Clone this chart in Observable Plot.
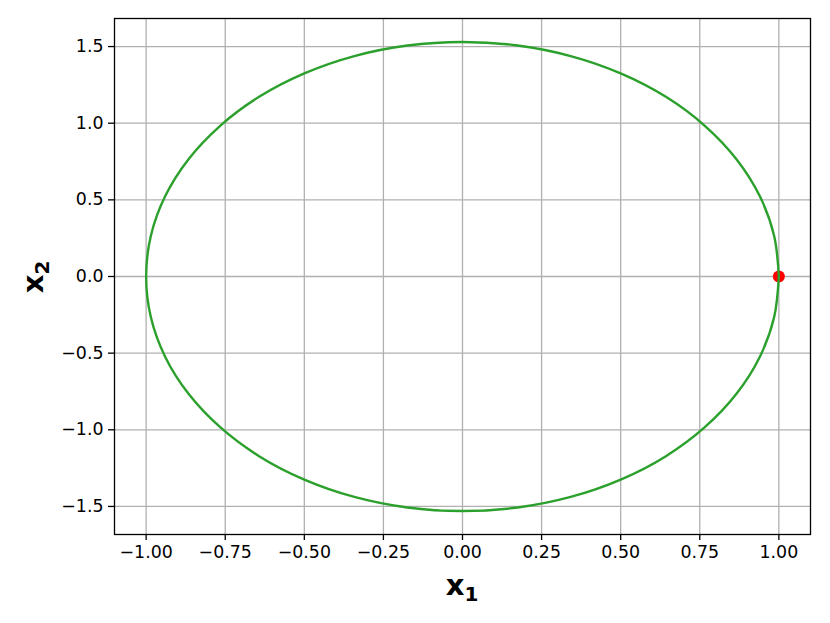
<!DOCTYPE html>
<html>
<head>
<meta charset="utf-8">
<script src="https://cdn.jsdelivr.net/npm/d3@7"></script>
<script src="https://cdn.jsdelivr.net/npm/@observablehq/plot@0.6"></script>
<style>
  html, body { margin: 0; padding: 0; background: white; }
  g[aria-label$="tick label"], g[aria-label$="tick label"] text {
    font-size: 17.4px !important;
    font-family: "DejaVu Sans" !important;
  }
</style>
</head>
<body>
<div id="chart"></div>
<script>
// Trajectory points (x1, x2)
const x1 = [1.000, 0.985, 0.940, 0.866, 0.766, 0.643, 0.500, 0.342, 0.174, 0.000,
            -0.174, -0.342, -0.500, -0.643, -0.766, -0.866, -0.940, -0.985, -1.000,
            -0.985, -0.940, -0.866, -0.766, -0.643, -0.500, -0.342, -0.174, 0.000,
            0.174, 0.342, 0.500, 0.643, 0.766, 0.866, 0.940, 0.985, 1.000];
const x2 = [0.000, 0.266, 0.523, 0.765, 0.983, 1.172, 1.325, 1.438, 1.507, 1.530,
            1.507, 1.438, 1.325, 1.172, 0.983, 0.765, 0.523, 0.266, 0.000,
            -0.266, -0.523, -0.765, -0.983, -1.172, -1.325, -1.438, -1.507, -1.530,
            -1.507, -1.438, -1.325, -1.172, -0.983, -0.765, -0.523, -0.266, 0.000];
// Initial point
const startX1 = [1.0];
const startX2 = [0.0];
// Tick values
const xTicks = [-1.00, -0.75, -0.50, -0.25, 0.00, 0.25, 0.50, 0.75, 1.00];
const yTicks = [-1.5, -1.0, -0.5, 0.0, 0.5, 1.0, 1.5];

const traj = x1.map((v, i) => ({x1: v, x2: x2[i]}));
const start = startX1.map((v, i) => ({x1: v, x2: startX2[i]}));
const minus = s => s.replace("-", "\u2212");

const plot = Plot.plot({
  width: 830,
  height: 623,
  marginLeft: 114,
  marginRight: 20,
  marginTop: 18,
  marginBottom: 89,
  style: {fontFamily: "DejaVu Sans", fontSize: "17.4px", color: "black", background: "white"},
  x: {domain: [-1.1, 1.1], label: null},
  y: {domain: [-1.683, 1.683], label: null},
  marks: [
    Plot.gridX(xTicks, {stroke: "#b0b0b0", strokeOpacity: 1, strokeWidth: 1.3}),
    Plot.gridY(yTicks, {stroke: "#b0b0b0", strokeOpacity: 1, strokeWidth: 1.3}),
    Plot.axisX(xTicks, {tickSize: 6, tickPadding: 5, fontSize: 17.4, strokeWidth: 1.3, tickFormat: d => minus(d.toFixed(2)), stroke: "black", fill: "black"}),
    Plot.axisY(yTicks, {tickSize: 6, tickPadding: 5, fontSize: 17.4, strokeWidth: 1.3, tickFormat: d => minus(d.toFixed(1)), stroke: "black", fill: "black"}),
    Plot.dot(start, {x: "x1", y: "x2", r: 6, fill: "red", stroke: "red", strokeWidth: 0}),
    Plot.line(traj, {x: "x1", y: "x2", stroke: "#2ca02c", strokeWidth: 2.4, curve: "catmull-rom"}),
    Plot.frame({stroke: "black", strokeWidth: 1.3})
  ]
});

const svg = d3.select(plot);
// x-axis label: bold x with subscript 1
const xl = svg.append("text")
  .attr("x", 462).attr("y", 595)
  .attr("text-anchor", "middle")
  .style("font-family", "DejaVu Sans").style("font-weight", "bold").style("font-size", "29px")
  .attr("fill", "black");
xl.append("tspan").text("x");
xl.append("tspan").attr("dy", 6).style("font-size", "20px").text("1");

const yl = svg.append("text")
  .attr("transform", "translate(43,277) rotate(-90)")
  .attr("text-anchor", "middle")
  .style("font-family", "DejaVu Sans").style("font-weight", "bold").style("font-size", "29px")
  .attr("fill", "black");
yl.append("tspan").text("x");
yl.append("tspan").attr("dy", 6).style("font-size", "20px").text("2");

document.getElementById("chart").appendChild(plot);
</script>
</body>
</html>
